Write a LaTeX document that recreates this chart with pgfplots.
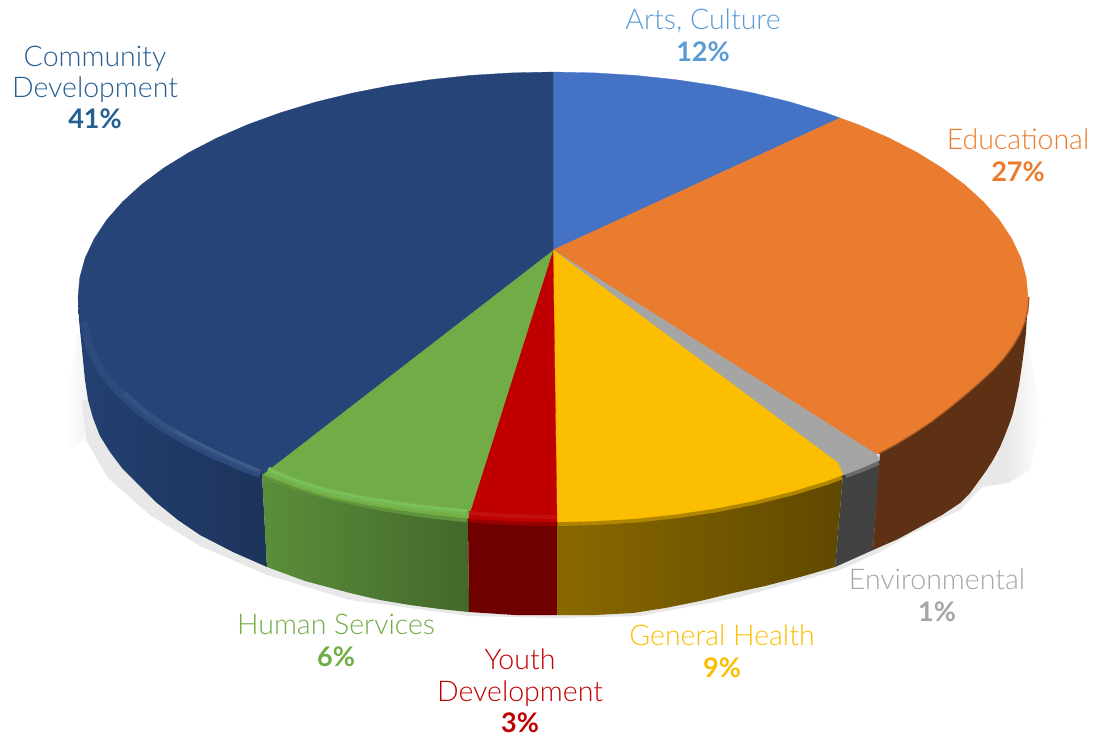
\documentclass[border=0pt]{standalone}
\usepackage{pgfplots}
\pgfplotsset{compat=1.18}
\usepackage{fontspec}
\setmainfont{Lato}
\newfontfamily\lightf{Lato Light}
\newfontfamily\boldf{Lato Bold}

\definecolor{artsc}{HTML}{4472C4}
\definecolor{educ}{HTML}{EA7C30}
\definecolor{envc}{HTML}{A5A5A5}
\definecolor{genc}{HTML}{FBBE00}
\definecolor{youc}{HTML}{C00000}
\definecolor{humc}{HTML}{70AD47}
\definecolor{comc}{HTML}{264478}
\definecolor{artst}{HTML}{5B9BD5}
\definecolor{comt}{HTML}{255E91}
\definecolor{edus}{HTML}{5F3114}

\newcommand{\lab}[4]{\node[anchor=base,text=#1,font=\fontsize{28.5}{28.5}\selectfont\lightf,inner sep=0pt] at (axis cs:#2,#3) {#4};}
\newcommand{\pct}[4]{\node[anchor=base,text=#1,font=\fontsize{27}{27}\selectfont\boldf,inner sep=0pt] at (axis cs:#2,#3) {#4};}

\begin{document}
\begin{tikzpicture}
\begin{axis}[
    hide axis,
    scale only axis,
    width=1099pt, height=737pt,
    xmin=0, xmax=1099,
    ymin=0, ymax=737,
    y dir=reverse,
    clip=false,
]
% keeps the page the size of the whole axis
\path (axis cs:0,0) rectangle (axis cs:1099,737);

% soft shadow under the disc
\addplot[draw=none, left color=white, right color=black!5] coordinates {
    (78,330)(66,400)(70,450)(84,440)(88,400) } -- cycle;
\addplot[draw=none, fill=black!9] coordinates {
    (82,400)(86,440)(108,478)(150,515)(200,546)(267,575)(350,600)(469,616)(557,618)(640,616)
    (740,597)(840,570)(880,552)(913,533)(960,510)(982,487)(1008,483)(1025,440)(1030,400)(1000,400) } -- cycle;
\addplot[draw=none, left color=black!9, right color=white] coordinates {
    (1020,340)(1026,333)(1042,420)(1030,470)(1008,483)(1005,430) } -- cycle;

% side walls
\addplot[draw=none, left color=comc!95!black, right color=comc!75!black] coordinates {
    (78,297)(262,474)(267,567)(233,552)(200,535)(178,520)(157,503)(138,484)(122,468)(110,452)(100,436)(93,418)(88,400)(85,380)(83,360)(81,340)(79,320) } -- cycle;
\addplot[draw=none, left color=humc!82!black, right color=humc!60!black] coordinates {
    (262,474)(468,518)(469,612)(440,609)(410,605)(380,600)(350,593)(305,581)(267,567) } -- cycle;
\addplot[draw=none, fill=youc!58!black] coordinates {
    (468,518)(557,522)(557,615)(515,615)(469,612) } -- cycle;
\addplot[draw=none, left color=genc!55!black, right color=genc!38!black] coordinates {
    (557,522)(843,475)(835,567)(800,577)(765,586)(733,593)(700,601)(665,608)(633,613)(595,615)(557,615) } -- cycle;
\addplot[draw=none, fill=black!74] coordinates {
    (843,475)(880,460)(873,550)(835,567) } -- cycle;
\addplot[draw=none, fill=edus] coordinates {
    (880,452)(1028,297)(1026,333)(1024,350)(1022,365)(1019,385)(1016,400)(1013,413)(1010,422)(1005,435)(1000,447)(993,460)(986,471)(978,482)(970,493)(960,503)(942,515)(920,527)(898,539)(873,550) } -- cycle;

% soft edge between top face and wall, drawn under the top face
\addplot[no marks, line width=8pt, color=comc!88!black] coordinates {
    (94.2,355.2)(106.6,374)(122.5,392.1)(141.6,409.5)(163.9,426.1)(189.1,441.6)(217.1,456.1)(247.7,469.4)(259,473.6) };
\addplot[no marks, line width=8pt, color=humc!85!black] coordinates {
    (266,476.5)(280.5,481.3)(315.5,491.9)(352.3,500.9)(390.5,508.4)(430.1,514.3)(467,518.4) };
\addplot[no marks, line width=8pt, color=youc!80!black] coordinates {
    (469,518.4)(511.6,521.1)(556,522) };
\addplot[no marks, line width=8pt, color=genc!70!black] coordinates {
    (558,522)(594.4,521.1)(635.5,518.6)(675.9,514.3)(715.5,508.4)(753.7,500.9)(790.5,491.9)(825.5,481.3)(841,475.5) };
\addplot[no marks, line width=8pt, color=black!58] coordinates {
    (845,474)(858.3,469.4)(878,461) };

% top face, one wedge per category
\addplot[fill=artsc, draw=artsc, line width=0.3pt] coordinates {
    (553,250)(553,72)(594.4,72.9)(635.5,75.4)(675.9,79.7)(715.5,85.6)(753.7,93.1)(790.5,102.1)(825.5,112.7)(840,118) } -- cycle;
\addplot[no marks, draw=educ!72!black, line width=3pt] coordinates {
    (878,453)(895,444)(913,433)(931,421)(948,408)(964,395)(979,382)(992,370)(1003,358)(1012,346)(1019,334)(1024,322)(1027,310)(1028,297) };
\addplot[fill=educ, draw=educ, line width=0.3pt] coordinates {
    (553,250)(840,118)(858.3,124.6)(888.9,137.9)(916.9,152.4)(942.1,167.9)(964.4,184.5)(983.5,201.9)(999.4,220)(1011.8,238.8)(1020.8,257.9)(1026.2,277.4)(1028,297)
    (1027,310)(1024,322)(1019,334)(1012,346)(1003,358)(992,370)(979,382)(964,395)(948,408)(931,421)(913,433)(895,444)(876,454) } -- cycle;
\addplot[fill=envc, draw=envc, line width=0.3pt] coordinates {
    (553,250)(876,454)(880,460)(858.3,469.4)(843,475)(838,463) } -- cycle;
\addplot[fill=genc, draw=genc, line width=0.3pt] coordinates {
    (553,250)(838,463)(843,475)(825.5,481.3)(790.5,491.9)(753.7,500.9)(715.5,508.4)(675.9,514.3)(635.5,518.6)(594.4,521.1)(557,522) } -- cycle;
\addplot[fill=youc, draw=youc, line width=0.3pt] coordinates {
    (553,250)(557,522)(511.6,521.1)(468,518.4) } -- cycle;
\addplot[fill=humc, draw=humc, line width=0.3pt] coordinates {
    (553,250)(468,518.4)(430.1,514.3)(390.5,508.4)(352.3,500.9)(315.5,491.9)(280.5,481.3)(262,474.8) } -- cycle;
\addplot[fill=comc, draw=comc, line width=0.3pt] coordinates {
    (553,250)(262,474.8)(247.7,469.4)(217.1,456.1)(189.1,441.6)(163.9,426.1)(141.6,409.5)(122.5,392.1)(106.6,374)(94.2,355.2)(85.2,336.1)(79.8,316.6)(78,297)
    (79.8,277.4)(85.2,257.9)(94.2,238.8)(106.6,220)(122.5,201.9)(141.6,184.5)(163.9,167.9)(189.1,152.4)(217.1,137.9)(247.7,124.6)(280.5,112.7)(315.5,102.1)(352.3,93.1)(390.5,85.6)(430.1,79.7)(470.5,75.4)(511.6,72.9)(553,72) } -- cycle;

% bevel highlight, layered for a soft look
\addplot[no marks, line width=8pt, color=comc!97!white] coordinates {
    (84,322)(90,348)(102,372)(118,391)(138,410)(160,426)(186,441)(214,455)(244,468)(260,474) };
\addplot[no marks, line width=5pt, color=comc!93!white] coordinates {
    (124,393)(143,410)(165,426)(190,440)(218,454)(248,467)(260,472) };
\addplot[no marks, line width=2.5pt, color=comc!87!white] coordinates {
    (175,431)(190,439)(218,453)(248,466)(260,471) };
\addplot[no marks, line width=9pt, color=humc!96!yellow] coordinates {
    (268,471)(297,483)(330,493)(370,501)(417,508)(467,513) };
\addplot[no marks, line width=5.5pt, color=humc!92!white!95!green] coordinates {
    (268,470)(297,482)(330,492)(370,500)(417,507)(467,512) };
\addplot[no marks, line width=2.5pt, color=humc!84!white!90!green] coordinates {
    (268,469)(297,481)(330,491)(370,499)(417,506)(467,511) };
\addplot[no marks, line width=4pt, color=youc!94!white] coordinates {
    (469,513)(511,516)(556,517) };

% labels
\lab{artst}{703}{29}{Arts, Culture}
\pct{artst}{703}{61}{12\%}
\lab{educ}{1018}{149}{Educational}
\pct{educ}{1018}{181}{27\%}
\lab{comt}{95}{66}{Community}
\lab{comt}{95}{97}{Development}
\pct{comt}{95}{128}{41\%}
\lab{envc}{937}{589}{Environmental}
\pct{envc}{937}{621}{1\%}
\lab{genc}{722}{645}{General Health}
\pct{genc}{722}{677}{9\%}
\lab{youc}{520}{669}{Youth}
\lab{youc}{520}{701}{Development}
\pct{youc}{520}{732}{3\%}
\lab{humc}{336}{634}{Human Services}
\pct{humc}{336}{666}{6\%}

\end{axis}
\end{tikzpicture}
\end{document}
